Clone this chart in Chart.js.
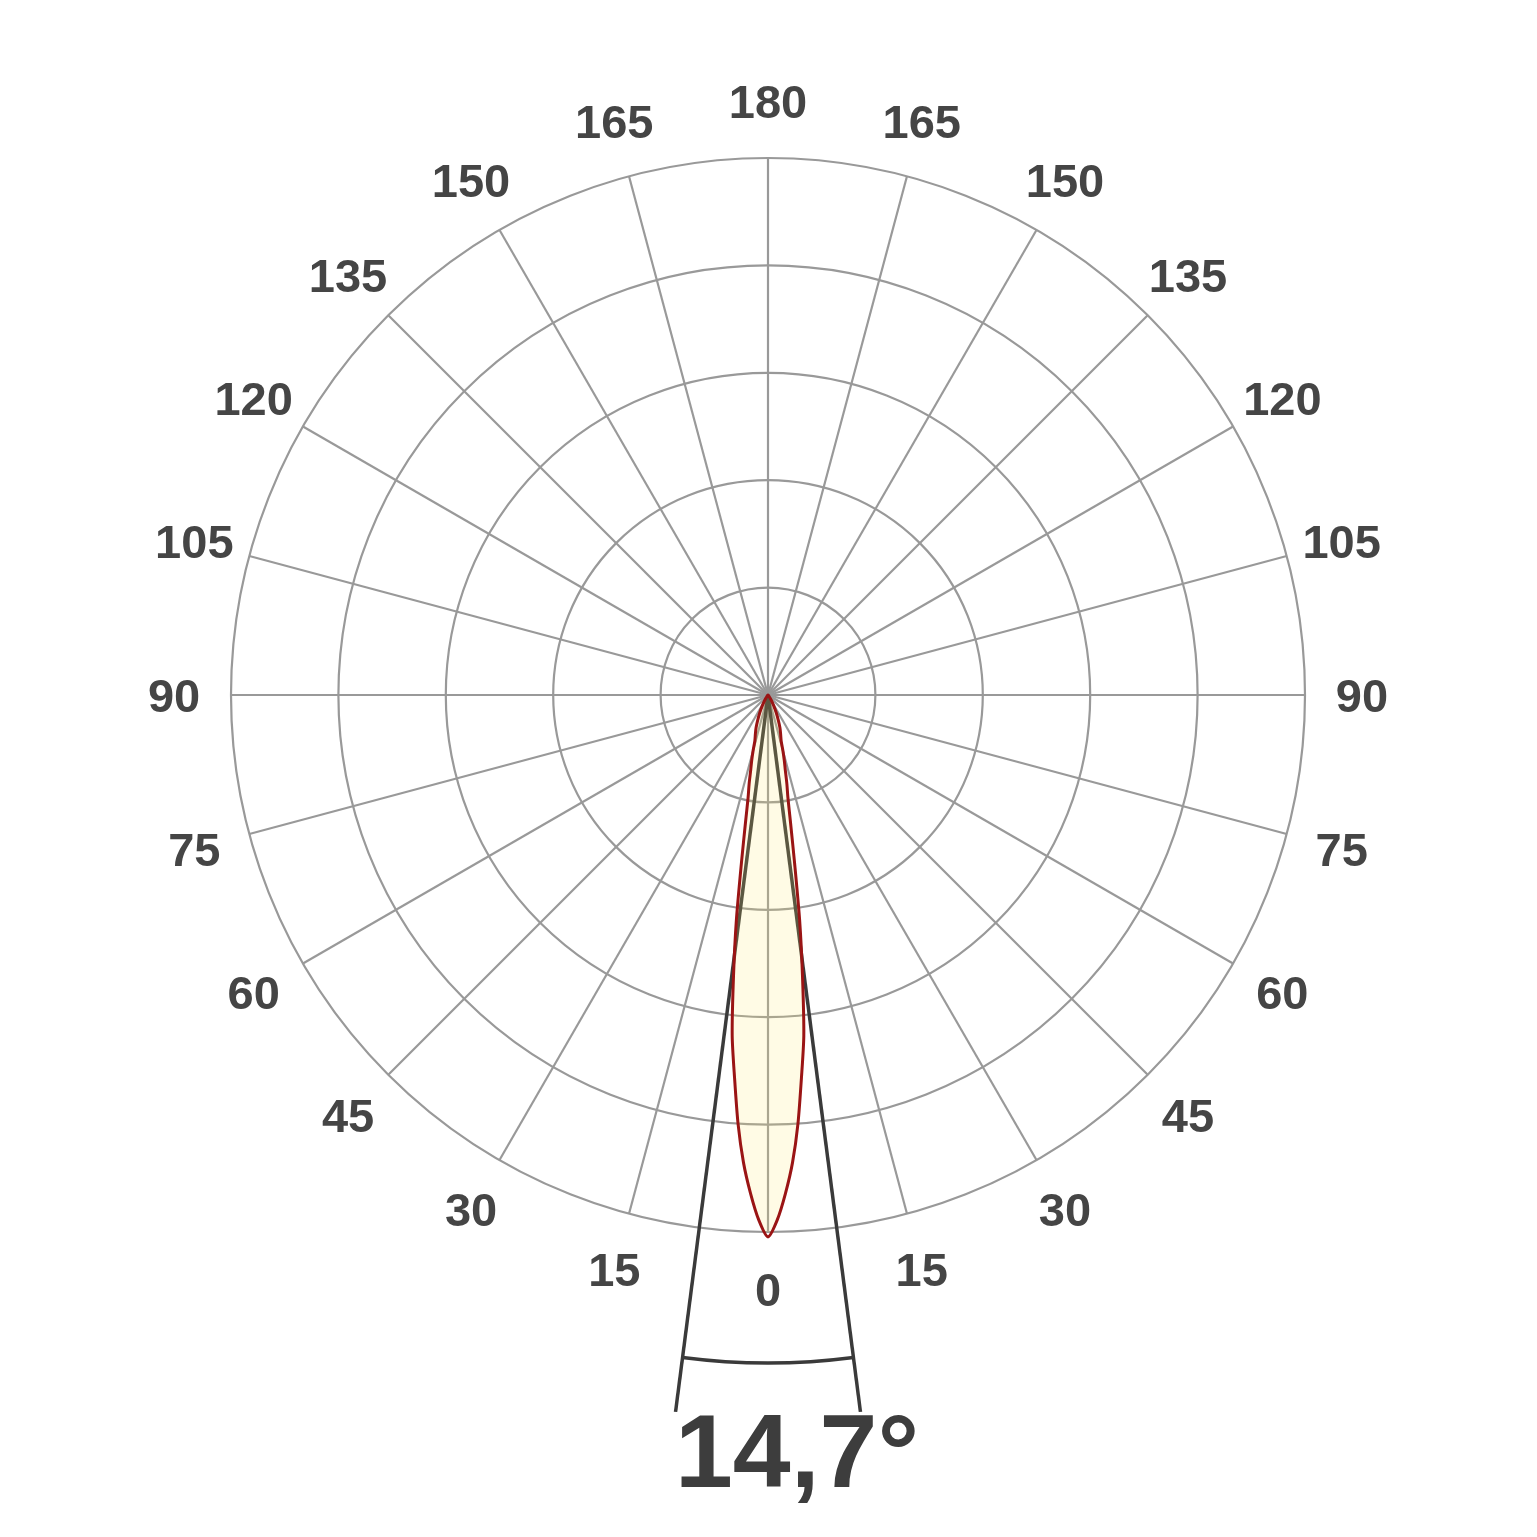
<!DOCTYPE html>
<html>
<head>
<meta charset="utf-8">
<script src="https://cdn.jsdelivr.net/npm/chart.js@4.4.1/dist/chart.umd.min.js"></script>
<style>
html,body{margin:0;padding:0;background:#fff;overflow:hidden;}
#wrap{width:1537px;height:1537px;position:relative;}
</style>
</head>
<body>
<div id="wrap"><canvas id="polar"></canvas></div>
<script>
// angle labels, clockwise from the top of the diagram
const ANGLE_TICKS = [180,165,150,135,120,105,90,75,60,45,30,15,0,15,30,45,60,75,90,105,120,135,150,165];
// light curve: gamma (deg) and intensity (% of outer ring)
const GAMMA = [0,1,2,3,4,5,6,7,8,9,10,11,12,13,14,15,16,18,20,22,25,28,32,36,40];
const INTENSITY = [100.9,97.8,92.9,87.2,80.0,71.5,63.8,52.7,42.3,31.6,24.2,19.4,16.9,14.3,12.5,10.7,8.9,7.6,6.5,5.2,3.6,2.2,1.1,0.4,0];
const BEAM_ANGLE = 14.7;
const BEAM_LABEL = "14,7°";
const RING_MAX = 100, RING_STEP = 20;

const LABEL_FONT = 47, BIG_FONT = 104;
const FONT_FAMILY = '"Liberation Sans", Arial, Helvetica, sans-serif';

// one radar category per degree, 0 = top, 180 = bottom (gamma 0)
const labels = [];
for(let i=0;i<360;i++) labels.push(Math.abs(180-i));
const lobe = labels.map(g => g>GAMMA[GAMMA.length-1] ? 0 : null);
GAMMA.forEach((g,k)=>{
  lobe[180+g]=INTENSITY[k];
  lobe[180-g]=INTENSITY[k];
});

const beamPlugin = {
  id:'beam',
  beforeDatasetsDraw(chart){
    const s=chart.scales.r, ctx=chart.ctx, half=BEAM_ANGLE/2;
    const lineEnd=s.getDistanceFromCenterForValue(134.6);
    const arcR=s.getDistanceFromCenterForValue(124.4);
    ctx.save();
    ctx.strokeStyle='#3a3a3a';
    ctx.lineWidth=3.5;
    [180-half,180+half].forEach(idx=>{
      const p=s.getPointPosition(idx,lineEnd);
      ctx.beginPath();ctx.moveTo(s.xCenter,s.yCenter);ctx.lineTo(p.x,p.y);ctx.stroke();
    });
    const a0=s.getPointPosition(180-half,arcR).angle, a1=s.getPointPosition(180+half,arcR).angle;
    ctx.beginPath();ctx.arc(s.xCenter,s.yCenter,arcR,Math.min(a0,a1),Math.max(a0,a1));ctx.stroke();
    ctx.restore();
  },
  afterDraw(chart){
    const s=chart.scales.r, ctx=chart.ctx;
    const labelR=s.getDistanceFromCenterForValue(110.6);
    ctx.save();
    ctx.fillStyle='#454545';
    ctx.textAlign='center';
    ctx.textBaseline='alphabetic';
    ctx.font=`bold ${LABEL_FONT}px ${FONT_FAMILY}`;
    ANGLE_TICKS.forEach((t,k)=>{
      const p=s.getPointPosition(k*15,labelR);
      ctx.fillText(String(t),p.x,p.y+0.358*LABEL_FONT);
    });
    ctx.fillStyle='#3d3d3d';
    ctx.textAlign='left';
    ctx.font=`bold ${BIG_FONT}px ${FONT_FAMILY}`;
    ctx.fillText(BEAM_LABEL,s.xCenter-93,s.yCenter+792);
    ctx.restore();
  }
};

new Chart(document.getElementById('polar'),{
  type:'radar',
  data:{labels,datasets:[{
    data:lobe,
    borderColor:'#9a1414',
    borderWidth:3,
    borderJoinStyle:'round',
    backgroundColor:'rgba(255,232,100,0.17)',
    fill:'origin',
    pointRadius:0,
    pointHoverRadius:0,
    tension:0.25,
    spanGaps:true,
    clip:false
  }]},
  options:{
    responsive:true,
    maintainAspectRatio:false,
    animation:false,
    events:[],
    layout:{padding:{left:231,right:232,top:158,bottom:305}},
    plugins:{legend:{display:false},tooltip:{enabled:false}},
    scales:{r:{
      min:0,max:RING_MAX,
      ticks:{display:false,stepSize:RING_STEP},
      pointLabels:{display:false},
      grid:{circular:true,color:'#999999',lineWidth:2.2},
      angleLines:{color:'#999999',lineWidth:c=>c.index%15===0?2.2:0}
    }}
  },
  plugins:[beamPlugin]
});
</script>
</body>
</html>
